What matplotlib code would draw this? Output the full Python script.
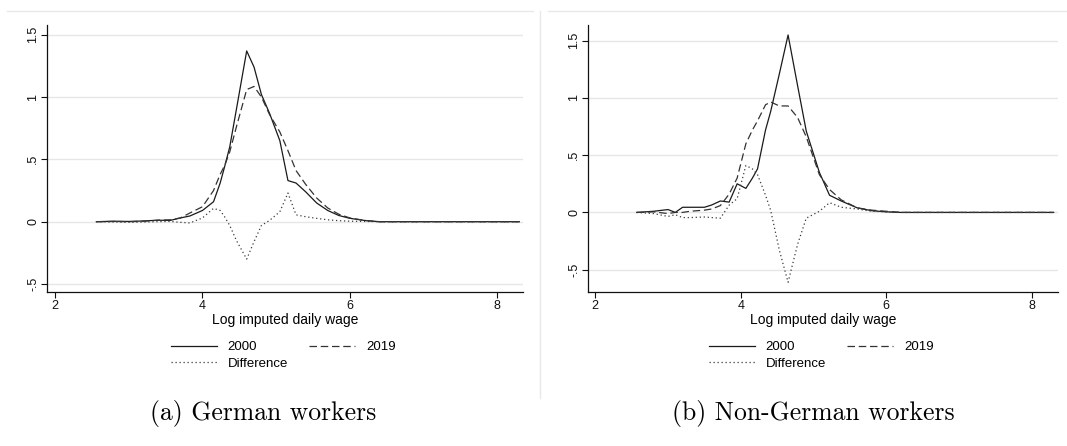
import numpy as np
import matplotlib
matplotlib.use("Agg")
import matplotlib.pyplot as plt
from matplotlib.lines import Line2D

plt.rcParams['font.family'] = ['Liberation Sans', 'DejaVu Sans']

# (a) German workers: density of log imputed daily wage
wage_de = [2.56, 2.8, 3.0, 3.2, 3.4, 3.56, 3.7, 3.83, 4.0, 4.15, 4.24, 4.3, 4.37, 4.46,
           4.6, 4.7, 4.8, 4.91, 5.05, 5.16, 5.27, 5.4, 5.55, 5.7, 5.85, 6.0, 6.2, 6.4,
           7.0, 7.5, 8.0, 8.3]
dens2000_de = [0, 0.004, 0.002, 0.006, 0.012, 0.01, 0.03, 0.046, 0.09, 0.16, 0.31, 0.44,
               0.6, 0.9, 1.37, 1.24, 1.02, 0.87, 0.65, 0.33, 0.31, 0.24, 0.15, 0.09, 0.05,
               0.027, 0.01, 0, 0, 0, 0, 0]
dens2019_de = [0, 0.002, 0.0, 0.004, 0.012, 0.015, 0.03, 0.07, 0.12, 0.25, 0.38, 0.45,
               0.56, 0.76, 1.06, 1.085, 1.0, 0.86, 0.72, 0.57, 0.41, 0.3, 0.19, 0.11, 0.06,
               0.03, 0.01, 0, 0, 0, 0, 0]
diff_de = [0, -0.003, -0.005, -0.003, 0, 0.002, -0.005, -0.01, 0.03, 0.107, 0.09, 0.04,
           -0.03, -0.15, -0.3, -0.16, -0.03, 0.01, 0.08, 0.23, 0.055, 0.04, 0.027, 0.015,
           0.008, 0.004, 0.002, 0, 0, 0, 0, 0]

# (b) Non-German workers
wage_nde = [2.57, 2.8, 3.0, 3.1, 3.2, 3.3, 3.5, 3.6, 3.72, 3.84, 3.95, 4.07, 4.16, 4.23,
            4.34, 4.41, 4.53, 4.65, 4.78, 4.9, 5.08, 5.22, 5.38, 5.6, 5.8, 6.0, 6.2,
            7.0, 8.3]
dens2000_nde = [0, 0.01, 0.025, 0, 0.045, 0.045, 0.045, 0.065, 0.1, 0.09, 0.25, 0.21,
                0.3, 0.38, 0.72, 0.88, 1.21, 1.55, 1.11, 0.71, 0.35, 0.15, 0.1, 0.04,
                0.015, 0.005, 0, 0, 0]
dens2019_nde = [0, 0.005, -0.01, 0, 0.0, 0.01, 0.02, 0.03, 0.06, 0.16, 0.3, 0.6, 0.72,
                0.8, 0.94, 0.965, 0.93, 0.93, 0.83, 0.66, 0.33, 0.2, 0.11, 0.04, 0.02,
                0.01, 0, 0, 0]
diff_nde = [0, -0.01, -0.035, -0.02, -0.045, -0.045, -0.04, -0.045, -0.05, 0.064, 0.12,
            0.41, 0.38, 0.33, 0.15, 0.02, -0.33, -0.61, -0.28, -0.05, 0.01, 0.085, 0.045,
            0.03, 0.01, 0.005, 0, 0, 0]

xticks = [2, 4, 6, 8]
yticks = [-0.5, 0, 0.5, 1, 1.5]
ytick_labels = ['-.5', '0', '.5', '1', '1.5']
series_labels = ['2000', '2019', 'Difference']
xlabel = 'Log imputed daily wage'
captions = ['(a) German workers', '(b) Non-German workers']

W, H = 1067, 446
fig = plt.figure(figsize=(W / 100, H / 100), dpi=100)


def px_box(l, t, r, b):
    return [l / W, 1 - b / H, (r - l) / W, (b - t) / H]


def draw_panel(ax, x, d0, d1, dd, xlim, ylim, leg_x):
    h0, = ax.plot(x, d0, color='#1a1a1a', lw=0.9, label=series_labels[0])
    h1, = ax.plot(x, d1, color='#333333', lw=0.9, dashes=(6, 3), label=series_labels[1])
    h2, = ax.plot(x, dd, color='#3a3a3a', lw=0.9, dashes=(1, 2.2), label=series_labels[2])
    ax.set_xlim(*xlim)
    ax.set_ylim(*ylim)
    ax.set_xticks(xticks)
    ax.set_yticks(yticks)
    ax.set_yticklabels(ytick_labels, rotation=90, va='center')
    ax.yaxis.grid(True, color='#e6e6e6', lw=1.0)
    ax.set_axisbelow(True)
    for s in ['top', 'right']:
        ax.spines[s].set_visible(False)
    for s in ['left', 'bottom']:
        ax.spines[s].set_linewidth(0.9)
        ax.spines[s].set_color('#111111')
    ax.tick_params(direction='out', length=4, width=0.8, labelsize=9,
                   colors='#111111', pad=1.5)
    ax.set_xlabel(xlabel, fontsize=10, va='top')
    ax.xaxis.set_label_coords(0.5, -0.078)
    ax.legend([h0, h2, h1], [series_labels[0], series_labels[2], series_labels[1]],
              ncol=2, frameon=False, fontsize=9.5, loc='upper left',
              bbox_to_anchor=(leg_x / W, 1 - 341 / H), bbox_transform=fig.transFigure,
              borderpad=0, borderaxespad=0, handlelength=3.5, handletextpad=0.8,
              columnspacing=1.6, labelspacing=0.35)


ax1 = fig.add_axes(px_box(47, 25, 523, 292))
draw_panel(ax1, wage_de, dens2000_de, dens2019_de, diff_de,
           (1.89, 8.35), (-0.564, 1.578), 171)

ax2 = fig.add_axes(px_box(588, 25, 1058, 292))
draw_panel(ax2, wage_nde, dens2000_nde, dens2019_nde, diff_nde,
           (1.90, 8.36), (-0.695, 1.637), 709)

# faint outline of the exported graph regions
frame = '#e8e8e8'
fig.add_artist(Line2D([7 / W, 533 / W], [1 - 11 / H] * 2, color=frame, lw=1))
fig.add_artist(Line2D([548 / W, 1], [1 - 11 / H] * 2, color=frame, lw=1))
fig.add_artist(Line2D([540 / W] * 2, [1 - 11 / H, 1 - 398 / H], color=frame, lw=1))

# subfigure captions
for cx, text in zip([263, 813], captions):
    fig.text(cx / W, 1 - 420 / H, text, family=['cmr10'], fontsize=18.5,
             ha='center', va='baseline')

fig.savefig('out.png', dpi=100)
